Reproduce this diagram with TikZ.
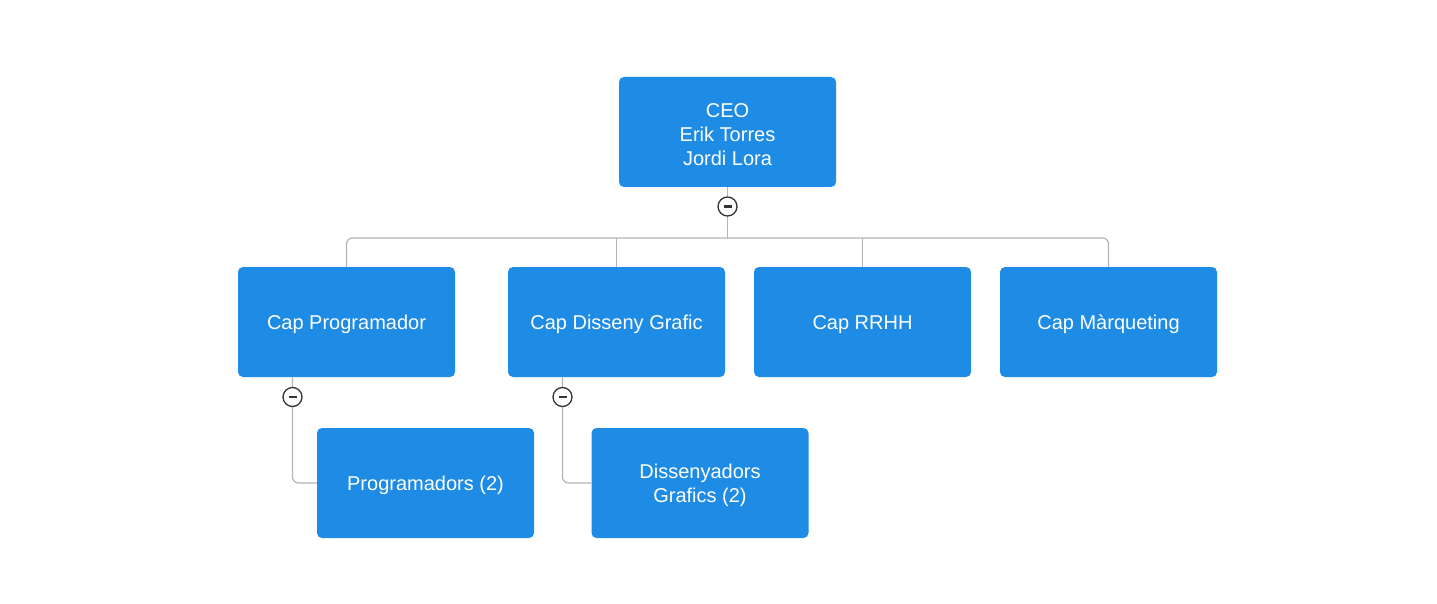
\documentclass[tikz,border=0pt]{standalone}
\usepackage{fontspec}
\setmainfont{Liberation Sans}
\begin{document}
\begin{tikzpicture}[x=1pt,y=-1pt,
  box/.style={fill=boxblue, rounded corners=5pt, minimum width=217pt, minimum height=110pt,
    inner sep=0pt, label={[boxtext]center:#1}},
  boxtext/.style={text=white, font=\fontsize{20}{24}\selectfont, align=center, inner sep=0pt, yshift=-2.5pt},
  conn/.style={draw=linegray, line width=1.2pt, rounded corners=6pt},
  toggle/.style={circle, draw=darkgray2, line width=1.3pt, fill=white, minimum size=19pt, inner sep=0pt,
    path picture={\draw[darkgray2, line width=2.2pt] ([xshift=-4pt]path picture bounding box.center) -- ([xshift=4pt]path picture bounding box.center);}}
]
\definecolor{boxblue}{HTML}{1E8BE5}
\definecolor{linegray}{HTML}{B4B4B4}
\definecolor{darkgray2}{HTML}{333333}
\useasboundingbox[fill=white] (0,0) rectangle (1437,604);

\node[box={CEO\\Erik Torres\\Jordi Lora}] (ceo) at (727.5,132) {};
\node[box={Cap Programador}] (prog) at (346.5,322) {};
\node[box={Cap Disseny Grafic}] (dis) at (616.5,322) {};
\node[box={Cap RRHH}] (rrhh) at (862.5,322) {};
\node[box={Cap Màrqueting}] (mark) at (1108.5,322) {};
\node[box={Programadors (2)}] (progs) at (425.5,483) {};
\node[box={Dissenyadors\\Grafics (2)}] (diss) at (700,483) {};

\coordinate (bus) at (727.5,238);
\draw[conn, rounded corners=0pt] (ceo.south) -- (bus);
\draw[conn] (prog.north) |- (bus) -| (mark.north);
\draw[conn] (dis.north) -- (dis.north |- bus);
\draw[conn] (rrhh.north) -- (rrhh.north |- bus);

\coordinate (pa) at (292.5,377);
\coordinate (da) at (562.5,377);
\draw[conn] (pa) |- (progs.west);
\draw[conn] (da) |- (diss.west);

\node[toggle] (t0) at (727.5,206.5) {};
\node[toggle] (t1) at (292.5,397) {};
\node[toggle] (t2) at (562.5,397) {};
\end{tikzpicture}
\end{document}
